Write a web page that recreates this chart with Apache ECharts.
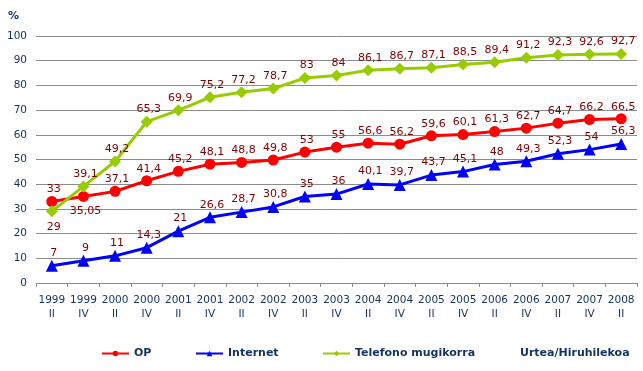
<!DOCTYPE html>
<html>
<head>
<meta charset="utf-8">
<script src="https://cdn.jsdelivr.net/npm/echarts@6/dist/echarts.min.js"></script>
<style>html,body{margin:0;padding:0;background:#fff}#c{width:643px;height:371px}</style>
</head>
<body>
<div id="c"></div>
<script>
const years = ['1999','1999','2000','2000','2001','2001','2002','2002','2003','2003','2004','2004','2005','2005','2006','2006','2007','2007','2008'];
const quarters = ['II','IV','II','IV','II','IV','II','IV','II','IV','II','IV','II','IV','II','IV','II','IV','II'];
const opValues = [33, 35.05, 37.1, 41.4, 45.2, 48.1, 48.8, 49.8, 53, 55, 56.6, 56.2, 59.6, 60.1, 61.3, 62.7, 64.7, 66.2, 66.5];
const internetValues = [7, 9, 11, 14.3, 21, 26.6, 28.7, 30.8, 35, 36, 40.1, 39.7, 43.7, 45.1, 48, 49.3, 52.3, 54, 56.3];
const mobileValues = [29, 39.1, 49.2, 65.3, 69.9, 75.2, 77.2, 78.7, 83, 84, 86.1, 86.7, 87.1, 88.5, 89.4, 91.2, 92.3, 92.6, 92.7];
const yTicks = [0, 10, 20, 30, 40, 50, 60, 70, 80, 90, 100];

const categories = years.map((y, i) => y + '\n' + quarters[i]);
const navy = '#12325f';
const labelRed = '#800000';
const font = 'DejaVu Sans';

function fmt(v) { return String(v).replace('.', ','); }
function withBelow(arr, belowIdx) {
  return arr.map((v, i) => belowIdx.indexOf(i) >= 0 ? { value: v, label: { position: 'bottom', distance: 4 } } : v);
}
const lbl = {
  show: true, position: 'top', distance: 1, offset: [2, 0], color: labelRed,
  fontFamily: font, fontSize: 11,
  formatter: p => fmt(p.value)
};
const legendText = { color: navy, fontFamily: font, fontSize: 11, fontWeight: 'bold' };
const legendBase = { top: 343, itemWidth: 27, itemHeight: 7, itemGap: 0, textStyle: legendText };

const chart = echarts.init(document.getElementById('c'), null, { renderer: 'canvas' });
chart.setOption({
  animation: false,
  backgroundColor: '#fff',
  grid: { left: 36, right: 6, top: 36, bottom: 88, containLabel: false },
  xAxis: {
    type: 'category', data: categories, boundaryGap: true,
    axisLine: { show: true, lineStyle: { color: '#8c8c8c', width: 1 } },
    axisTick: { show: true, length: 4, lineStyle: { color: '#8c8c8c' } },
    axisLabel: { interval: 0, color: navy, fontFamily: font, fontSize: 10.5, lineHeight: 14, margin: 10 },
    splitLine: { show: false }
  },
  yAxis: {
    type: 'value', min: yTicks[0], max: yTicks[yTicks.length - 1], interval: yTicks[1] - yTicks[0],
    axisLine: { show: false }, axisTick: { show: false },
    axisLabel: { color: navy, fontFamily: font, fontSize: 10.5, margin: 9 },
    splitLine: { show: true, lineStyle: { color: '#8c8c8c', width: 1 } }
  },
  legend: [
    Object.assign({ data: ['OP'], left: 96 }, legendBase),
    Object.assign({ data: ['Internet'], left: 190 }, legendBase),
    Object.assign({ data: ['Telefono mugikorra'], left: 317 }, legendBase)
  ],
  graphic: [
    { type: 'text', left: 8, top: 11, style: { text: '%', fill: navy, font: 'bold 11px "DejaVu Sans"' } },
    { type: 'text', left: 520, top: 348, style: { text: 'Urtea/Hiruhilekoa', fill: navy, font: 'bold 11px "DejaVu Sans"' } }
  ],
  series: [
    {
      name: 'OP', type: 'line', data: withBelow(opValues, [1]),
      symbol: 'circle', symbolSize: 11,
      lineStyle: { color: '#ff0000', width: 3 }, itemStyle: { color: '#ff0000' },
      label: lbl, z: 3
    },
    {
      name: 'Internet', type: 'line', data: internetValues,
      symbol: 'triangle', symbolSize: 12,
      lineStyle: { color: '#0000ff', width: 3 }, itemStyle: { color: '#0000ff' },
      label: lbl, z: 2
    },
    {
      name: 'Telefono mugikorra', type: 'line', data: withBelow(mobileValues, [0]),
      symbol: 'diamond', symbolSize: 12,
      lineStyle: { color: '#99cc00', width: 3 }, itemStyle: { color: '#99cc00' },
      label: lbl, z: 4
    }
  ]
});
</script>
</body>
</html>
